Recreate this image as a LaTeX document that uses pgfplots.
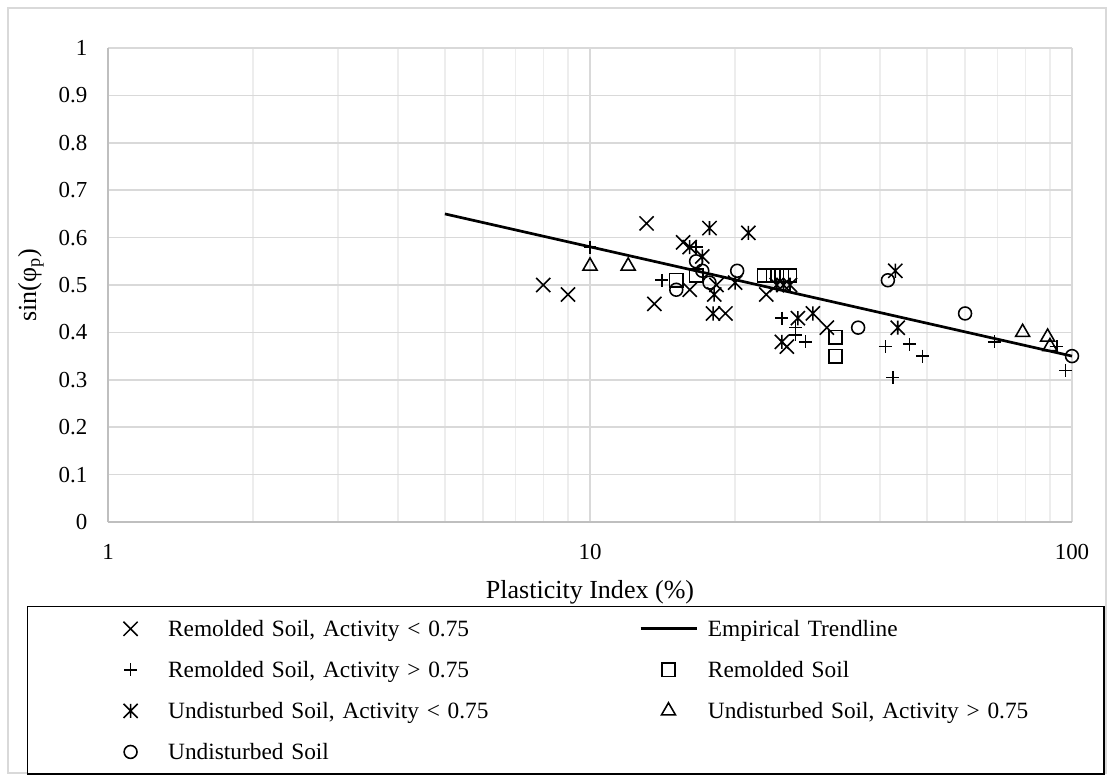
\documentclass[border=0pt]{standalone}
\usepackage{fontspec}
\setmainfont{Liberation Serif}
\usepackage{pgfplots}
\pgfplotsset{compat=1.18}

\definecolor{gridmaj}{HTML}{D9D9D9}
\definecolor{gridmin}{HTML}{EDEDED}
\definecolor{axisgray}{HTML}{BFBFBF}

% Excel style star: a cross with a vertical bar
\pgfdeclareplotmark{xstar}{%
  \pgfpathmoveto{\pgfqpoint{-.7071\pgfplotmarksize}{-.7071\pgfplotmarksize}}%
  \pgfpathlineto{\pgfqpoint{.7071\pgfplotmarksize}{.7071\pgfplotmarksize}}%
  \pgfpathmoveto{\pgfqpoint{-.7071\pgfplotmarksize}{.7071\pgfplotmarksize}}%
  \pgfpathlineto{\pgfqpoint{.7071\pgfplotmarksize}{-.7071\pgfplotmarksize}}%
  \pgfpathmoveto{\pgfqpoint{0pt}{.7071\pgfplotmarksize}}%
  \pgfpathlineto{\pgfqpoint{0pt}{-.7071\pgfplotmarksize}}%
  \pgfusepathqstroke}

\pgfplotsset{
  leftentry/.style={legend image code/.code={%
      \path (-46pt,0pt) (15.7pt,0pt);
      \draw[##1] plot coordinates {(0pt,0pt)};}},
  rightentry/.style={legend image code/.code={%
      \path (0pt,0pt) (29.7pt,0pt);
      \draw[##1] plot coordinates {(13.4pt,0pt)};}},
  trendentry/.style={legend image code/.code={%
      \path (0pt,0pt) (29.7pt,0pt);
      \draw[##1, line width=1.3pt] (0pt,0pt) -- (26.9pt,0pt);}},
  pts/.style={only marks, black, mark options={solid, line width=0.75pt}},
}

\begin{document}
\begin{tikzpicture}
\path[use as bounding box] (0,0) rectangle (534.72pt,374.88pt);
\draw[gridmaj, line width=0.7pt] (3.84pt,3.84pt) rectangle (530.88pt,371.04pt);
\begin{axis}[
    at={(51.84pt,124.32pt)}, anchor=south west,
    scale only axis,
    width=462.72pt, height=227.52pt,
    xmode=log, log basis x=10,
    xmin=1, xmax=100, ymin=0, ymax=1,
    xtick={1,10,100}, xticklabels={1,10,100},
    minor xtick={2,3,4,5,6,7,8,9,20,30,40,50,60,70,80,90},
    ytick={0,0.1,0.2,0.3,0.4,0.5,0.6,0.7,0.8,0.9,1},
    yticklabels={0,0.1,0.2,0.3,0.4,0.5,0.6,0.7,0.8,0.9,1},
    tick label style={font=\fontsize{11pt}{13pt}\selectfont},
    xticklabel style={yshift=-7pt},
    yticklabel style={xshift=-6.4pt},
    xmajorgrids, xminorgrids, ymajorgrids,
    major grid style={gridmaj, line width=0.7pt},
    minor grid style={gridmin, line width=0.7pt},
    axis lines*=left,
    axis line style={axisgray, line width=0.7pt, -},
    tick style={draw=none},
    clip=false,
    xlabel={Plasticity Index (\%)},
    ylabel={sin(φ\textsubscript{p})},
    every axis x label/.style={at={(axis description cs:0.5,-0.148)}, anchor=center,
        font=\fontsize{12.5pt}{15pt}\selectfont},
    every axis y label/.style={at={(axis description cs:-0.08,0.5)}, rotate=90, anchor=center,
        font=\fontsize{12.5pt}{15pt}\selectfont},
    legend columns=2,
    legend cell align=left,
    legend style={
        at={(axis description cs:-0.084,-0.177)}, anchor=north west,
        draw=black, line width=0.7pt,
        font=\fontsize{11.2pt}{13pt}\selectfont,
        inner xsep=3pt, inner ysep=4.4pt,
        row sep=7.2pt,
        nodes={inner sep=2pt, text height=8pt, text depth=0.5pt},
        /tikz/column 2/.style={nodes={text width=224.1pt}},
        /tikz/column 4/.style={nodes={text width=185.1pt}},
    },
]
\addplot[pts, mark=x, mark size=4.8pt, leftentry] coordinates {
    (8,0.50) (9,0.48) (13.1,0.63) (13.6,0.46) (15.6,0.59) (16.1,0.49)
    (18.3,0.50) (19.1,0.44) (23.2,0.48) (25.6,0.37) (31,0.41)
};
\addlegendentry{Remolded Soil, Activity < 0.75}
\addplot[black, line width=1.3pt, no marks, trendentry]
    coordinates {(5,0.65) (100,0.35)};
\addlegendentry{Empirical Trendline}
\addplot[pts, mark=+, mark size=3.1pt, leftentry] coordinates {
    (10,0.58) (14.1,0.51) (16.6,0.58) (25,0.43) (26.7,0.41) (26.7,0.395)
    (28,0.38) (41,0.37) (42.5,0.305) (46,0.375) (49,0.35) (69,0.38)
    (93,0.37) (97,0.32)
};
\addlegendentry{Remolded Soil, Activity > 0.75}
\addplot[pts, mark=square, mark size=3.2pt, rightentry] coordinates {
    (15.1,0.51) (16.6,0.52) (23,0.52) (24,0.52) (25,0.52) (26,0.52)
    (32.3,0.39) (32.3,0.35)
};
\addlegendentry{Remolded Soil}
\addplot[pts, mark=xstar, mark size=4.8pt, leftentry] coordinates {
    (16.1,0.58) (17.1,0.56) (17.7,0.62) (21.3,0.61) (18.1,0.48) (18,0.44)
    (20,0.505) (24.4,0.50) (25.2,0.50) (26,0.50) (25,0.38) (27,0.43)
    (29,0.44) (43.5,0.41) (43,0.53)
};
\addlegendentry{Undisturbed Soil, Activity < 0.75}
\addplot[pts, mark=triangle, mark size=3.9pt, rightentry] coordinates {
    (10,0.54) (12,0.54) (79,0.40) (89,0.39) (90,0.37)
};
\addlegendentry{Undisturbed Soil, Activity > 0.75}
\addplot[pts, mark=o, mark size=3.1pt, leftentry] coordinates {
    (15.1,0.49) (16.6,0.55) (17.1,0.53) (17.7,0.505) (20.2,0.53)
    (36,0.41) (41.5,0.51) (60,0.44) (100,0.35)
};
\addlegendentry{Undisturbed Soil}
\end{axis}
\end{tikzpicture}
\end{document}
